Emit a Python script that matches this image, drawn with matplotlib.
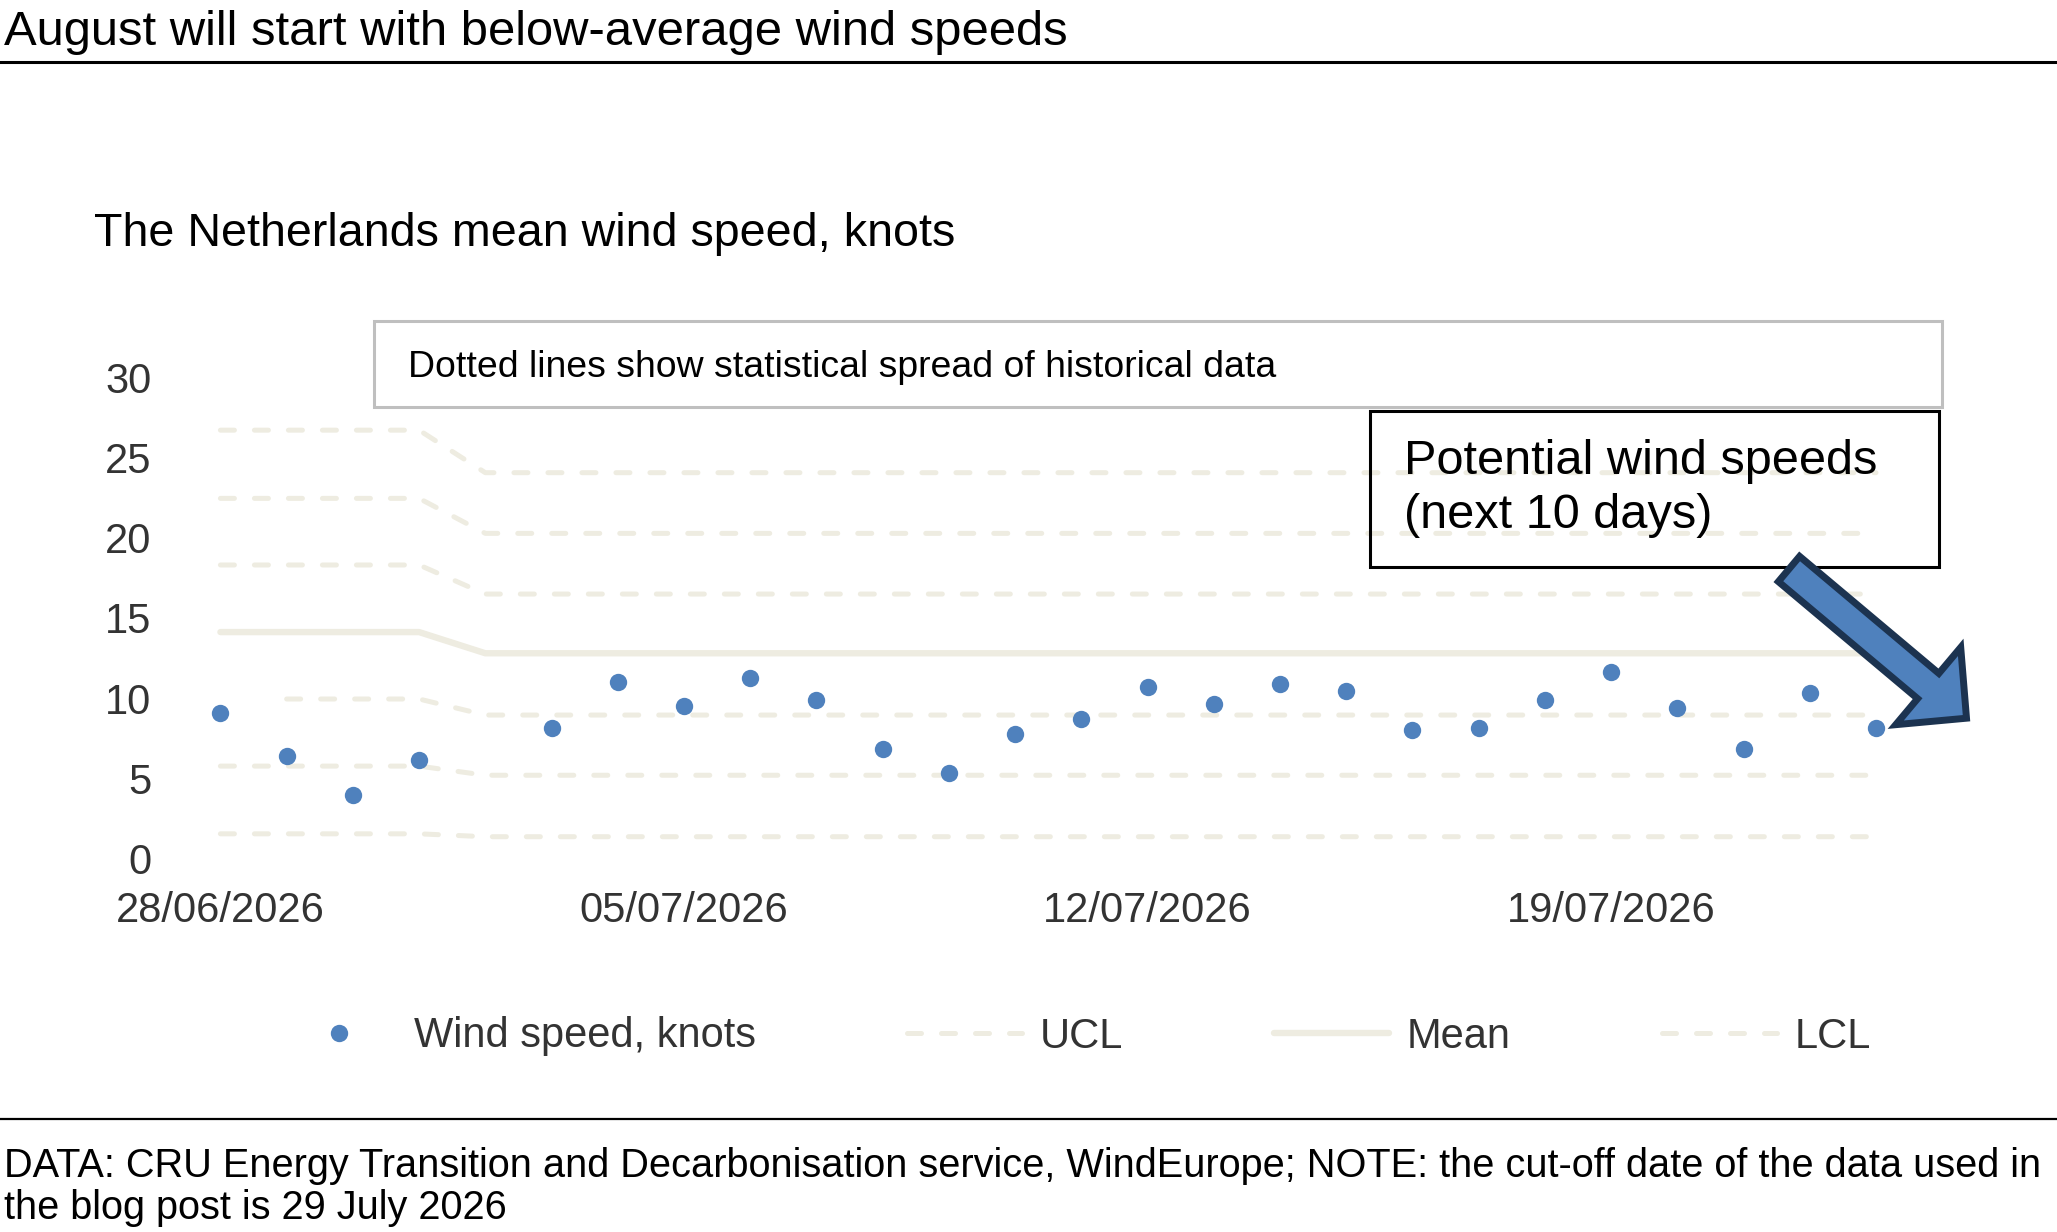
import numpy as np
import pandas as pd
import matplotlib
matplotlib.use("Agg")
import matplotlib.pyplot as plt
from matplotlib.patches import Rectangle, FancyArrow
from matplotlib.lines import Line2D
from matplotlib.transforms import IdentityTransform
import matplotlib.dates as mdates

plt.rcParams['font.family'] = ['Liberation Sans', 'DejaVu Sans']

# ---------------- data ----------------
dates = ["28/06/2026", "29/06/2026", "30/06/2026", "01/07/2026", "02/07/2026",
         "03/07/2026", "04/07/2026", "05/07/2026", "06/07/2026", "07/07/2026",
         "08/07/2026", "09/07/2026", "10/07/2026", "11/07/2026", "12/07/2026",
         "13/07/2026", "14/07/2026", "15/07/2026", "16/07/2026", "17/07/2026",
         "18/07/2026", "19/07/2026", "20/07/2026", "21/07/2026", "22/07/2026",
         "23/07/2026"]

wind_speed = [9.05, 6.40, 3.98, 6.17, np.nan, 8.15, 11.02, 9.50, 11.25, 9.90,
              6.85, 5.35, 7.78, 8.72, 10.70, 9.63, 10.88, 10.45, 8.03, 8.13,
              9.88, 11.65, 9.38, 6.83, 10.30, 8.12]

ucl_3 = [26.70, 26.70, 26.70, 26.70, 24.05, 24.05, 24.05, 24.05, 24.05, 24.05,
         24.05, 24.05, 24.05, 24.05, 24.05, 24.05, 24.05, 24.05, 24.05, 24.05,
         24.05, 24.05, 24.05, 24.05, 24.05, 24.05]
ucl_2 = [22.45, 22.45, 22.45, 22.45, 20.27, 20.27, 20.27, 20.27, 20.27, 20.27,
         20.27, 20.27, 20.27, 20.27, 20.27, 20.27, 20.27, 20.27, 20.27, 20.27,
         20.27, 20.27, 20.27, 20.27, 20.27, 20.27]
ucl_1 = [18.30, 18.30, 18.30, 18.30, 16.49, 16.49, 16.49, 16.49, 16.49, 16.49,
         16.49, 16.49, 16.49, 16.49, 16.49, 16.49, 16.49, 16.49, 16.49, 16.49,
         16.49, 16.49, 16.49, 16.49, 16.49, 16.49]
mean = [14.12, 14.12, 14.12, 14.12, 12.80, 12.80, 12.80, 12.80, 12.80, 12.80,
        12.80, 12.80, 12.80, 12.80, 12.80, 12.80, 12.80, 12.80, 12.80, 12.80,
        12.80, 12.80, 12.80, 12.80, 12.80, 12.80]
lcl_1 = [np.nan, 9.95, 9.95, 9.95, 8.95, 8.95, 8.95, 8.95, 8.95, 8.95,
         8.95, 8.95, 8.95, 8.95, 8.95, 8.95, 8.95, 8.95, 8.95, 8.95,
         8.95, 8.95, 8.95, 8.95, 8.95, 8.95]
lcl_2 = [5.77, 5.77, 5.77, 5.77, 5.20, 5.20, 5.20, 5.20, 5.20, 5.20,
         5.20, 5.20, 5.20, 5.20, 5.20, 5.20, 5.20, 5.20, 5.20, 5.20,
         5.20, 5.20, 5.20, 5.20, 5.20, 5.20]
lcl_3 = [1.55, 1.55, 1.55, 1.55, 1.37, 1.37, 1.37, 1.37, 1.37, 1.37,
         1.37, 1.37, 1.37, 1.37, 1.37, 1.37, 1.37, 1.37, 1.37, 1.37,
         1.37, 1.37, 1.37, 1.37, 1.37, 1.37]

tick_dates = ["28/06/2026", "05/07/2026", "12/07/2026", "19/07/2026"]
y_ticks = [0, 5, 10, 15, 20, 25, 30]

title = "August will start with below-average wind speeds"
subtitle = "The Netherlands mean wind speed, knots"
note_box = "Dotted lines show statistical spread of historical data"
footer1 = ("DATA: CRU Energy Transition and Decarbonisation service, WindEurope; "
           "NOTE: the cut-off date of the data used in")
footer2 = "the blog post is 29 July 2026"

# ---------------- style ----------------
BLUE = "#4F81BD"
BEIGE = "#EEECE1"
NAVY = "#1C3350"
GREY_TXT = "#333333"
DASH = (0, (2.8, 4.0))

W, H = 2057, 1232
fig = plt.figure(figsize=(W / 100, H / 100), dpi=100)
fig.patch.set_facecolor("white")


def fx(px):
    return px / W


def fy(py):
    return 1 - py / H


ax_l, ax_r, ax_t, ax_b = 154.2, 1942.2, 377.2, 858.7
ax = fig.add_axes([fx(ax_l), fy(ax_b), (ax_r - ax_l) / W, (ax_b - ax_t) / H])

x = pd.to_datetime(dates, format="%d/%m/%Y")

dash_kw = dict(color=BEIGE, lw=3.6, ls=DASH, dash_capstyle="round", zorder=2)
h_ucl, = ax.plot(x, ucl_1, label="UCL", **dash_kw)
ax.plot(x, ucl_2, **dash_kw)
ax.plot(x, ucl_3, **dash_kw)
h_mean, = ax.plot(x, mean, color=BEIGE, lw=4.6, solid_capstyle="round",
                  zorder=2, label="Mean")
h_lcl, = ax.plot(x, lcl_1, label="LCL", **dash_kw)
ax.plot(x, lcl_2, **dash_kw)
ax.plot(x, lcl_3, **dash_kw)
h_pts, = ax.plot(x, wind_speed, ls="none", marker="o", ms=12.5, mfc=BLUE,
                 mec="none", zorder=3, label="Wind speed, knots")

ax.set_xlim(x[0] - pd.Timedelta(days=1), x[-1] + pd.Timedelta(days=1))
ax.set_ylim(0, 30)
ax.set_yticks(y_ticks)
ax.set_xticks(pd.to_datetime(tick_dates, format="%d/%m/%Y"))
ax.xaxis.set_major_formatter(mdates.DateFormatter("%d/%m/%Y"))
ax.tick_params(axis="both", length=0, labelsize=30, colors=GREY_TXT)
ax.tick_params(axis="y", pad=2)
ax.tick_params(axis="x", pad=23.5)
for s in ax.spines.values():
    s.set_visible(False)
ax.patch.set_alpha(0)

# legend
leg = fig.legend(handles=[h_pts, h_ucl, h_mean, h_lcl], loc="center",
                 bbox_to_anchor=(fx(1076), fy(1036.5)), ncol=4, frameon=False,
                 fontsize=30, handlelength=2.77, handletextpad=0.42,
                 columnspacing=3.62, borderpad=0, borderaxespad=0)
for t in leg.get_texts():
    t.set_color(GREY_TXT)

# title & rules
fig.text(fx(4), fy(45), title, fontsize=35.3, color="black", va="baseline", ha="left")
fig.add_artist(Line2D([0, 1], [fy(61.7), fy(61.7)], color="black", lw=2.2,
                      transform=fig.transFigure))
fig.add_artist(Line2D([0, 1], [fy(1119), fy(1119)], color="black", lw=1.6,
                      transform=fig.transFigure))
fig.text(fx(94), fy(246.5), subtitle, fontsize=33.6, color="black",
         va="baseline", ha="left")

# note box
fig.add_artist(Rectangle((fx(374), fy(407)), fx(1942 - 374), (407 - 321) / H,
                         transform=fig.transFigure, facecolor="white",
                         edgecolor="#BFBFBF", lw=2.2, zorder=1))
fig.text(fx(408), fy(376.8), note_box, fontsize=26.9, color="black",
         va="baseline", ha="left", zorder=2)

# callout box
fig.add_artist(Rectangle((fx(1370), fy(567)), fx(1939 - 1370), (567 - 411) / H,
                         transform=fig.transFigure, facecolor="none",
                         edgecolor="black", lw=2.2, zorder=4))
fig.text(fx(1404), fy(474), "Potential wind speeds", fontsize=35.1, color="black",
         va="baseline", ha="left", zorder=5)
fig.text(fx(1404), fy(527.5), "(next 10 days)", fontsize=35.1, color="black",
         va="baseline", ha="left", zorder=5)

# arrow (pixel coordinates)
arr = FancyArrow(1789, H - 569, 177.5, -149.2, width=33, head_width=101,
                 head_length=50, length_includes_head=True,
                 transform=IdentityTransform(), facecolor=BLUE,
                 edgecolor=NAVY, lw=5, joinstyle="miter", zorder=6)
fig.add_artist(arr)

# footer
fig.text(fx(4), fy(1177), footer1, fontsize=28.65, color="black", va="baseline", ha="left")
fig.text(fx(4), fy(1219), footer2, fontsize=28.65, color="black", va="baseline", ha="left")

fig.savefig("out.png", dpi=100)
